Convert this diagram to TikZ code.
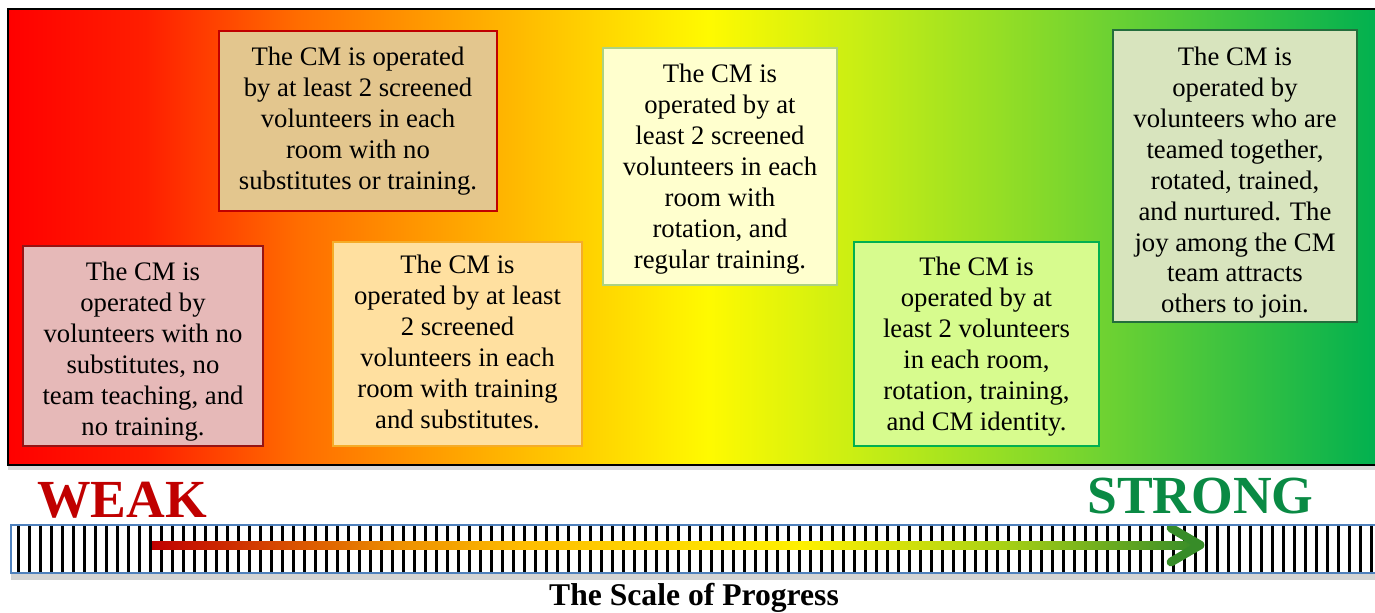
\documentclass[tikz,border=0pt]{standalone}
\usepackage{fontspec}
\setmainfont{Liberation Serif}
\usepackage{tikz}
\usetikzlibrary{shadows}

\definecolor{gradA}{RGB}{255,0,0}
\definecolor{gradB}{RGB}{255,30,0}
\definecolor{gradC}{RGB}{255,108,0}
\definecolor{gradD}{RGB}{255,185,0}
\definecolor{gradE}{RGB}{255,250,0}
\definecolor{gradF}{RGB}{200,238,20}
\definecolor{gradG}{RGB}{110,210,50}
\definecolor{gradH}{RGB}{0,176,80}
\definecolor{arrA}{RGB}{192,0,0}
\definecolor{arrB}{RGB}{238,145,0}
\definecolor{arrC}{RGB}{255,190,0}
\definecolor{arrD}{RGB}{255,240,0}
\definecolor{arrE}{RGB}{170,210,20}
\definecolor{headgreen}{RGB}{55,140,40}
\definecolor{weakred}{RGB}{192,0,0}
\definecolor{stronggreen}{RGB}{10,138,68}
\definecolor{barblue}{RGB}{79,129,189}
\definecolor{pinkfill}{RGB}{230,185,184}
\definecolor{pinkline}{RGB}{150,20,20}
\definecolor{tanfill}{RGB}{227,198,142}
\definecolor{tanline}{RGB}{192,0,0}
\definecolor{peachfill}{RGB}{255,224,160}
\definecolor{peachline}{RGB}{245,172,40}
\definecolor{creamfill}{RGB}{255,255,206}
\definecolor{creamline}{RGB}{172,210,130}
\definecolor{limefill}{RGB}{215,251,142}
\definecolor{limeline}{RGB}{0,176,80}
\definecolor{sagefill}{RGB}{216,228,190}
\definecolor{sageline}{RGB}{35,110,60}

\pgfdeclarehorizontalshading{progress}{100bp}{color(0bp)=(gradA); color(25bp)=(gradA);
  color(30bp)=(gradB); color(35.5bp)=(gradC); color(43.5bp)=(gradD); color(50.5bp)=(gradE);
  color(56bp)=(gradF); color(65bp)=(gradG); color(75bp)=(gradH); color(100bp)=(gradH)}
\pgfdeclarehorizontalshading{arrowgrad}{100bp}{color(0bp)=(arrA); color(25bp)=(arrA);
  color(37bp)=(arrB); color(43bp)=(arrC); color(56bp)=(arrD); color(65.5bp)=(arrE);
  color(75bp)=(headgreen); color(100bp)=(headgreen)}

% card text, lowered a little inside its box
\newcommand{\cardtext}[2][0pt]{\raisebox{-#1}[\height][\depth]{\begin{tabular}{@{}c@{}}#2\end{tabular}}}

\begin{document}
\begin{tikzpicture}[x=0.02cm, y=-0.02cm]

\tikzstyle{card} = [draw, line width=1pt, inner sep=2pt,
  font=\fontsize{15.2}{17.6}\selectfont]
\tikzstyle{label} = [font=\fontsize{30.5}{34}\selectfont\bfseries, anchor=base west, inner sep=0pt]

\path[use as bounding box, clip] (0,0) rectangle (1375,612);

% background
\shade[shading=progress, drop shadow={shadow xshift=0pt, shadow yshift=-3pt, opacity=.3}]
  (8,9) rectangle (1380,465);
\draw[line width=1.2pt] (8,9) rectangle (1380,465);

% levels, weak side
\node[card, fill=pinkfill, draw=pinkline, minimum width=4.8cm, minimum height=4cm] at (143,346) (lvlone)
  {\cardtext[3.4pt]{The CM is\\ operated by\\ volunteers with no\\ substitutes, no\\ team teaching, and\\ no training.}};
\node[card, fill=tanfill, draw=tanline, minimum width=5.56cm, minimum height=3.6cm] at (358,121) (lvltwo)
  {\cardtext{The CM is operated\\ by at least 2 screened\\ volunteers in each\\ room with no\\ substitutes or training.}};
\node[card, fill=peachfill, draw=peachline, minimum width=4.98cm, minimum height=4.08cm] at (457.5,344) (lvlthree)
  {\cardtext[0.5pt]{The CM is\\ operated by at least\\ 2 screened\\ volunteers in each\\ room with training\\ and substitutes.}};
% levels, strong side
\node[card, fill=creamfill, draw=creamline, minimum width=4.68cm, minimum height=4.74cm] at (720,166.5) (lvlfour)
  {\cardtext[1.7pt]{The CM is\\ operated by at\\ least 2 screened\\ volunteers in each\\ room with\\ rotation, and\\ regular training.}};
\node[card, fill=limefill, draw=limeline, minimum width=4.9cm, minimum height=4.08cm] at (976.5,344) (lvlfive)
  {\cardtext[1.7pt]{The CM is\\ operated by at\\ least 2 volunteers\\ in each room,\\ rotation, training,\\ and CM identity.}};
\node[card, fill=sagefill, draw=sageline, minimum width=4.88cm, minimum height=5.84cm] at (1235,176) (lvlsix)
  {\cardtext[4pt]{The CM is\\ operated by\\ volunteers who are\\ teamed together,\\ rotated, trained,\\ and nurtured. The\\ joy among the CM\\ team attracts\\ others to join.}};

% ends of the scale
\node[label, text=weakred] at (37,517) (weak) {WEAK};
\node[label, text=stronggreen] at (1087,513) (strong) {STRONG};

% scale bar
\fill[white, drop shadow={shadow xshift=0pt, shadow yshift=-4pt, opacity=.35}] (11,525) rectangle (1380,573);
\foreach \i in {0,...,123}
  \draw[line width=1.5pt] (18.3+11*\i,525) -- (18.3+11*\i,573);

% progress arrow
\coordinate (arrstart) at (152,545);
\coordinate (arrtip) at (1200,545);
\shade[shading=arrowgrad] (arrstart) ++(0,-4) rectangle ++(1046,8);
\draw[headgreen, line width=5pt, line cap=round, line join=round]
  (arrtip) ++(-29,-17) -- (arrtip) -- ++(-29,17);
\draw[barblue, line width=1pt] (11,525) rectangle (1380,573);

% caption
\node[font=\fontsize{18}{20}\selectfont\bfseries, anchor=base] at (694,605) (caption) {The Scale of Progress};
\end{tikzpicture}
\end{document}
